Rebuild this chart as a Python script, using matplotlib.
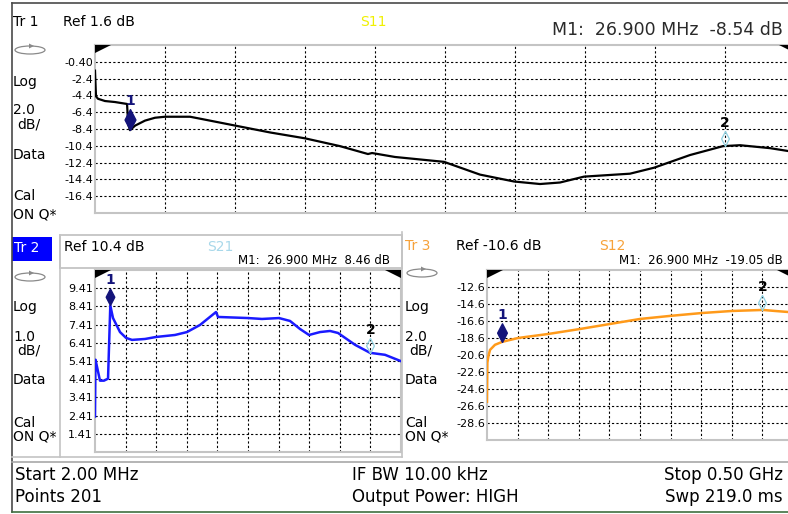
import numpy as np
import matplotlib
matplotlib.use("Agg")
import matplotlib.pyplot as plt
from matplotlib.patches import Ellipse, Rectangle, Polygon

W, H = 788, 514

# ---------------- data ----------------
f_start, f_stop = 2.0, 500.0          # MHz
m1_freq, m2_freq = 26.9, 450.0        # MHz

s11_freq = [2.0, 2.7, 4.1, 9.1, 16.2, 24.8, 25.6, 26.9, 30.5, 37.6, 44.7, 51.8,
            69.6, 76.7, 101.6, 126.5, 151.4, 176.3, 196.2, 199.1, 215.4, 250.3,
            275.9, 300.1, 318.6, 332.8, 349.9, 382.6, 399.7, 425.3, 448.8, 460.9,
            482.2, 500.0]
s11_db = [-1.45, -4.5, -4.8, -5.07, -5.19, -5.42, -7.8, -8.54, -8.0, -7.4, -7.06,
          -6.94, -6.94, -7.17, -7.99, -8.81, -9.51, -10.44, -11.38, -11.26, -11.73,
          -12.31, -13.83, -14.65, -14.95, -14.77, -14.07, -13.72, -13.01, -11.50,
          -10.44, -10.33, -10.68, -11.15]

s21_freq = [2.0, 2.8, 5.3, 10.1, 16.6, 23.2, 26.9, 31.3, 42.7, 52.5, 62.2, 83.4,
            101.3, 132.2, 151.7, 172.9, 198.9, 202.2, 251.0, 273.8, 301.5, 319.4,
            335.6, 350.3, 368.2, 384.5, 397.5, 425.2, 449.6, 474.0, 500.0]
s21_db = [2.36, 5.48, 5.09, 4.33, 4.33, 4.44, 8.46, 7.77, 7.0, 6.68, 6.57, 6.62,
          6.73, 6.84, 7.0, 7.39, 8.10, 7.83, 7.77, 7.72, 7.77, 7.61, 7.17, 6.84,
          7.0, 7.06, 6.95, 6.30, 5.86, 5.75, 5.40]

s12_freq = [2.0, 2.6, 4.4, 6.9, 15.0, 26.9, 52.5, 101.3, 153.4, 202.2, 251.0,
            300.0, 351.9, 400.7, 451.2, 470.7, 491.9, 500.0]
s12_db = [-26.1, -21.5, -20.7, -20.0, -19.4, -19.05, -18.6, -18.13, -17.54,
          -16.95, -16.36, -16.0, -15.66, -15.42, -15.3, -15.42, -15.54, -15.6]

s11_ticks = [-0.4, -2.4, -4.4, -6.4, -8.4, -10.4, -12.4, -14.4, -16.4]
s11_labels = ["-0.40", "-2.4", "-4.4", "-6.4", "-8.4", "-10.4", "-12.4", "-14.4", "-16.4"]
s21_ticks = [9.41, 8.41, 7.41, 6.41, 5.41, 4.41, 3.41, 2.41, 1.41]
s21_labels = ["9.41", "8.41", "7.41", "6.41", "5.41", "4.41", "3.41", "2.41", "1.41"]
s12_ticks = [-12.6, -14.6, -16.6, -18.6, -20.6, -22.6, -24.6, -26.6, -28.6]
s12_labels = ["-12.6", "-14.6", "-16.6", "-18.6", "-20.6", "-22.6", "-24.6", "-26.6", "-28.6"]

# ---------------- figure ----------------
plt.rcParams['font.family'] = ['DejaVu Sans']
fig = plt.figure(figsize=(W / 100, H / 100), dpi=100)
fig.patch.set_facecolor('white')


def rect(l, t, r, b):
    return [l / W, 1 - b / H, (r - l) / W, (b - t) / H]


ov = fig.add_axes([0, 0, 1, 1], zorder=0)
ov.set_xlim(0, W)
ov.set_ylim(H, 0)
ov.axis('off')

top = fig.add_axes([0, 0, 1, 1], zorder=20)
top.set_xlim(0, W)
top.set_ylim(H, 0)
top.axis('off')
top.patch.set_alpha(0)

GRAY = '#c4c4c4'
DARK = '#4a4a4a'

# outer frame lines
ov.plot([12, 788], [3, 3], color=DARK, lw=1.2)
ov.plot([12, 12], [3, 512], color=DARK, lw=1.2)
ov.plot([12, 788], [512, 512], color='#3f6f3f', lw=1.2)
# middle panel separators
ov.plot([60, 60], [235, 457], color=GRAY, lw=1.2)
ov.plot([402, 402], [232, 457], color=GRAY, lw=1.2)
ov.plot([12, 402], [457, 457], color=GRAY, lw=1.2)
ov.plot([12, 788], [462, 462], color='#a8a8a8', lw=1.2)
ov.add_patch(Rectangle((60, 235), 342, 33, fill=False, ec=GRAY, lw=1.3))
ov.add_patch(Rectangle((12, 237), 40, 24, fc='#0000ff', ec='none'))


def oval(x, y):
    ov.add_patch(Ellipse((x, y), 30, 8, fill=False, ec='#8a8a8a', lw=0.9))
    ov.add_patch(Polygon([[x - 1, y - 6.5], [x + 4, y - 4], [x - 1, y - 1.5]],
                         closed=True, fc='#8a8a8a', ec='none'))


def side_labels(x, ys, scale):
    oval(x + 17, ys[0])
    for txt, yy, dx in zip(["Log", scale, "dB/", "Data", "Cal", "ON Q*"], ys[1:],
                           [0, 0, 4, 0, 0, 0]):
        ov.text(x + dx, yy, txt, fontsize=10, va='center', ha='left')


side_labels(13, [50, 82, 110, 124, 155, 196, 214], "2.0")
side_labels(13, [277, 307, 337, 351, 380, 423, 437], "1.0")
side_labels(405, [273, 307, 337, 351, 380, 423, 437], "2.0")

# headers
ov.text(13, 22, "Tr 1", fontsize=10, va='center')
ov.text(63, 22, "Ref 1.6 dB", fontsize=10, va='center')
ov.text(360, 22, "S11", fontsize=10, va='center', color='#f0f000')
ov.text(783, 30, "M1:  26.900 MHz  -8.54 dB", fontsize=12.5, va='center', ha='right',
        color='#2a2a2a')

ov.text(14, 248, "Tr 2", fontsize=10, va='center', color='white')
ov.text(64, 247, "Ref 10.4 dB", fontsize=10, va='center')
ov.text(207, 247, "S21", fontsize=10, va='center', color='#a8d8ea')
ov.text(390, 261, "M1:  26.900 MHz  8.46 dB", fontsize=8.5, va='center', ha='right')

ov.text(405, 246, "Tr 3", fontsize=10, va='center', color='#f7a23a')
ov.text(456, 246, "Ref -10.6 dB", fontsize=10, va='center')
ov.text(599, 246, "S12", fontsize=10, va='center', color='#f7a23a')
ov.text(783, 261, "M1:  26.900 MHz  -19.05 dB", fontsize=8.5, va='center', ha='right')

# status bar
ov.text(15, 475, "Start 2.00 MHz", fontsize=12, va='center')
ov.text(15, 497, "Points 201", fontsize=12, va='center')
ov.text(352, 475, "IF BW 10.00 kHz", fontsize=12, va='center')
ov.text(352, 497, "Output Power: HIGH", fontsize=12, va='center')
ov.text(783, 475, "Stop 0.50 GHz", fontsize=12, va='center', ha='right')
ov.text(783, 497, "Swp 219.0 ms", fontsize=12, va='center', ha='right')

DIAMOND = [(0, 0), (0.52, 1.0), (0, 2.0), (-0.52, 1.0), (0, 0)]


def make_panel(box, freq, vals, color, ylim, ticks, labels, dh, lw):
    ax = fig.add_axes(rect(*box), zorder=5)
    ax.set_facecolor('white')
    ax.set_xlim(f_start, f_stop)
    ax.set_ylim(*ylim)
    ax.set_xticks(np.linspace(f_start, f_stop, 11)[1:-1])
    ax.set_xticklabels([])
    ax.set_yticks(ticks)
    ax.set_yticklabels(labels)
    ax.tick_params(length=0, labelsize=8, pad=1.5)
    ax.grid(True, color='black', ls=(0, (2, 2)), lw=0.8)
    for s in ax.spines.values():
        s.set_color(GRAY)
        s.set_linewidth(1.5)
    ax.plot(freq, vals, color=color, lw=lw, zorder=3, solid_joinstyle='round')
    # marker 1
    v1 = np.interp(m1_freq, freq, vals)
    ax.plot([m1_freq], [v1], marker=DIAMOND, ms=dh * 2.2 / 1.389, color='#14147a',
            mec='#14147a', zorder=4)
    ax.annotate("1", (m1_freq, v1), xytext=(0, dh + 10), textcoords='offset pixels',
                ha='center', va='center', fontsize=10, fontweight='bold',
                color='#14147a', zorder=5)
    # marker 2 (inactive)
    v2 = np.interp(m2_freq, freq, vals)
    ax.plot([m2_freq], [v2], marker=DIAMOND, ms=15 * 2 / 1.389, mfc='none',
            mec='#8fd0e0', mew=0.9, ls='none', zorder=4)
    ax.annotate("2", (m2_freq, v2), xytext=(0, 23), textcoords='offset pixels',
                ha='center', va='center', fontsize=10, fontweight='bold',
                color='black', zorder=5)
    return ax


make_panel((95, 45, 795, 213), s11_freq, s11_db, 'black', (-18.4, 1.6),
           s11_ticks, s11_labels, 19, 1.6)
make_panel((95, 270, 401, 452), s21_freq, s21_db, '#1a1aff', (0.41, 10.41),
           s21_ticks, s21_labels, 15, 1.8)
make_panel((487, 270, 793, 440), s12_freq, s12_db, '#ff9a1a', (-30.6, -10.6),
           s12_ticks, s12_labels, 17, 1.8)


def corner_tris(l, t, r):
    top.add_patch(Polygon([[l, t], [l + 16, t], [l, t + 8]], closed=True, fc='black', ec='none'))
    top.add_patch(Polygon([[r, t], [r - 16, t], [r, t + 8]], closed=True, fc='black', ec='none'))


corner_tris(95, 45, 795)
corner_tris(95, 270, 401)
corner_tris(487, 270, 793)

fig.savefig("out.png", dpi=100, facecolor='white')
